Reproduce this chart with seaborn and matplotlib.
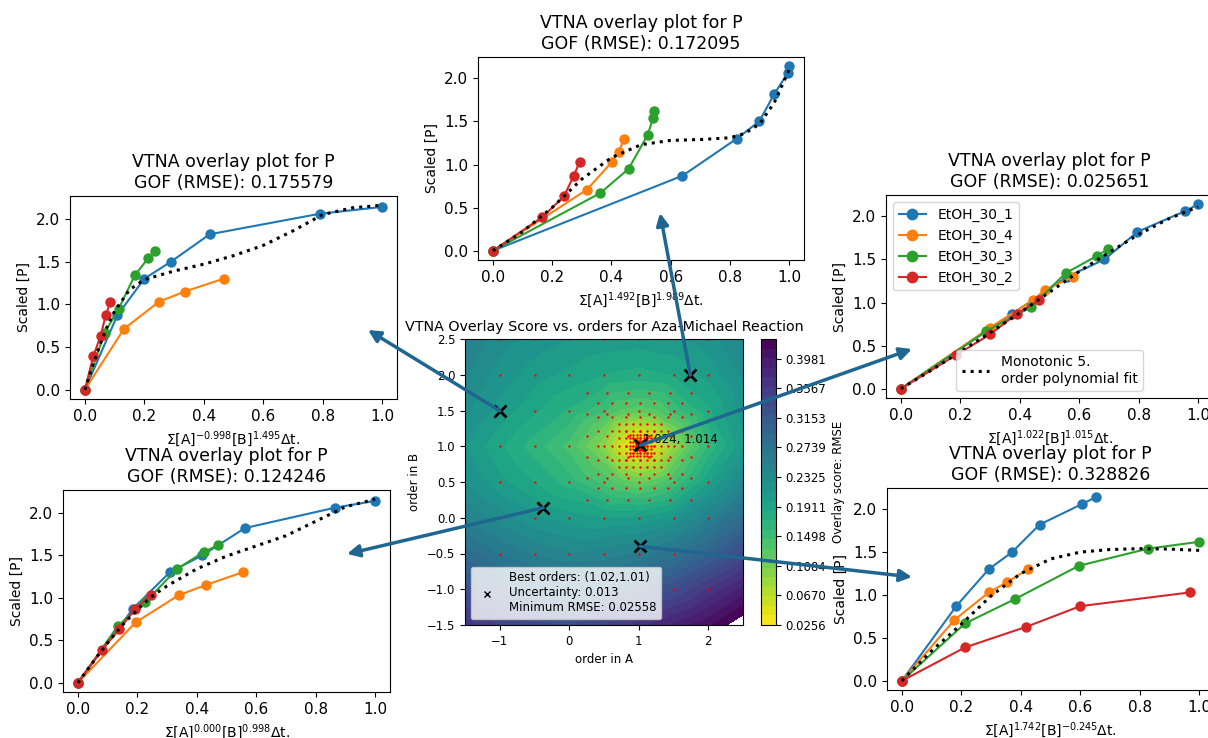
import numpy as np
import pandas as pd
import matplotlib
matplotlib.use("Agg")
import matplotlib.pyplot as plt
import matplotlib.tri as mtri
from matplotlib.patches import ConnectionPatch
from matplotlib.lines import Line2D
import seaborn as sns

# ------------------------------------------------------------------ data
series_names = ["EtOH_30_1", "EtOH_30_4", "EtOH_30_3", "EtOH_30_2"]
series_colors = ["#1f77b4", "#ff7f0e", "#2ca02c", "#d62728"]

# scaled [P] values (same in all panels)
p_etoh_1 = [0.0, 0.87, 1.30, 1.50, 1.82, 2.06, 2.14]
p_etoh_4 = [0.0, 0.71, 1.03, 1.15, 1.30]
p_etoh_3 = [0.0, 0.67, 0.95, 1.34, 1.54, 1.62]
p_etoh_2 = [0.0, 0.39, 0.63, 0.87, 1.03]

# top-left panel
tl_orders = (-0.998, 1.495)
tl_gof = "0.175579"
tl_x1 = [0.0, 0.109, 0.200, 0.290, 0.420, 0.790, 1.0]
tl_x4 = [0.0, 0.131, 0.249, 0.336, 0.467]
tl_x3 = [0.0, 0.067, 0.114, 0.168, 0.213, 0.235]
tl_x2 = [0.0, 0.028, 0.053, 0.070, 0.086]
tl_fit_x = [0.0, 0.025, 0.05, 0.075, 0.1, 0.15, 0.2, 0.25, 0.3, 0.4, 0.5, 0.6, 0.7, 0.8, 0.9, 1.0]
tl_fit_y = [0.0, 0.27, 0.52, 0.74, 0.92, 1.17, 1.29, 1.34, 1.39, 1.47, 1.57, 1.69, 1.86, 2.05, 2.13, 2.16]

# top-centre panel
tc_orders = (1.492, 1.989)
tc_gof = "0.172095"
tc_x1 = [0.0, 0.640, 0.823, 0.899, 0.950, 0.995, 1.0]
tc_x4 = [0.0, 0.318, 0.402, 0.425, 0.444]
tc_x3 = [0.0, 0.363, 0.458, 0.522, 0.541, 0.545]
tc_x2 = [0.0, 0.167, 0.240, 0.273, 0.293]
tc_fit_x = [0.0, 0.1, 0.2, 0.3, 0.4, 0.5, 0.6, 0.7, 0.8, 0.85, 0.9, 0.95, 1.0]
tc_fit_y = [0.0, 0.22, 0.50, 0.83, 1.08, 1.23, 1.28, 1.29, 1.31, 1.36, 1.47, 1.72, 2.10]

# right panel (best orders)
r_orders = (1.022, 1.015)
r_gof = "0.025651"
r_x1 = [0.0, 0.375, 0.560, 0.685, 0.796, 0.956, 1.0]
r_x4 = [0.0, 0.300, 0.446, 0.485, 0.580]
r_x3 = [0.0, 0.288, 0.439, 0.554, 0.659, 0.698]
r_x2 = [0.0, 0.185, 0.300, 0.390, 0.465]
r_fit_x = [0.0, 0.1, 0.2, 0.3, 0.4, 0.5, 0.6, 0.7, 0.8, 0.9, 1.0]
r_fit_y = [0.0, 0.21, 0.43, 0.65, 0.88, 1.12, 1.36, 1.58, 1.79, 1.97, 2.11]

# bottom-left panel
bl_orders = (0.000, 0.998)
bl_gof = "0.124246"
bl_x1 = [0.0, 0.185, 0.309, 0.419, 0.562, 0.865, 1.0]
bl_x4 = [0.0, 0.194, 0.339, 0.430, 0.554]
bl_x3 = [0.0, 0.135, 0.227, 0.334, 0.424, 0.472]
bl_x2 = [0.0, 0.081, 0.140, 0.192, 0.245]
bl_fit_x = [0.0, 0.05, 0.1, 0.15, 0.2, 0.25, 0.3, 0.4, 0.5, 0.6, 0.7, 0.8, 0.9, 1.0]
bl_fit_y = [0.0, 0.24, 0.47, 0.68, 0.86, 1.02, 1.14, 1.34, 1.49, 1.61, 1.73, 1.90, 2.07, 2.16]

# bottom-right panel
br_orders = (1.742, -0.245)
br_gof = "0.328826"
br_x1 = [0.0, 0.183, 0.292, 0.371, 0.463, 0.606, 0.652]
br_x4 = [0.0, 0.177, 0.292, 0.354, 0.424]
br_x3 = [0.0, 0.213, 0.379, 0.595, 0.828, 1.0]
br_x2 = [0.0, 0.213, 0.419, 0.600, 0.969]
br_fit_x = [0.0, 0.1, 0.2, 0.3, 0.4, 0.5, 0.6, 0.7, 0.8, 0.9, 1.0]
br_fit_y = [0.0, 0.35, 0.66, 0.99, 1.25, 1.42, 1.50, 1.53, 1.54, 1.535, 1.52]

# overlay score surface: coarse grid (rows from order B = 2.5 down to -1.5)
grid_a = [-1.5, -1.0, -0.5, 0.0, 0.5, 1.0, 1.5, 2.0, 2.5]
grid_b = [2.5, 2.0, 1.5, 1.0, 0.5, 0.0, -0.5, -1.0, -1.5]
grid_rmse = [
    [0.250, 0.232, 0.220, 0.212, 0.207, 0.205, 0.210, 0.220, 0.238],
    [0.240, 0.220, 0.205, 0.195, 0.185, 0.180, 0.186, 0.203, 0.228],
    [0.228, 0.207, 0.188, 0.170, 0.148, 0.125, 0.150, 0.182, 0.218],
    [0.212, 0.188, 0.165, 0.140, 0.095, 0.0256, 0.090, 0.160, 0.208],
    [0.225, 0.203, 0.185, 0.165, 0.140, 0.115, 0.145, 0.195, 0.240],
    [0.250, 0.232, 0.215, 0.205, 0.198, 0.200, 0.215, 0.250, 0.285],
    [0.285, 0.265, 0.250, 0.240, 0.243, 0.255, 0.272, 0.300, 0.335],
    [0.325, 0.305, 0.292, 0.285, 0.290, 0.308, 0.330, 0.360, 0.389],
    [0.365, 0.345, 0.335, 0.332, 0.345, 0.365, 0.388, 0.409, 0.440],
]
# refined points around the minimum
fine_a = [0.75, 1.25, 1.0, 1.0, 0.75, 1.25, 0.75, 1.25, 0.5, 0.5, 1.5, 1.5, 0.75, 1.25, 0.75, 1.25]
fine_b = [1.0, 1.0, 1.25, 0.75, 1.25, 1.25, 0.75, 0.75, 1.25, 0.75, 1.25, 0.75, 1.5, 1.5, 0.5, 0.5]
fine_rmse = [0.050, 0.048, 0.062, 0.068, 0.075, 0.072, 0.080, 0.078,
             0.115, 0.120, 0.112, 0.118, 0.130, 0.130, 0.125, 0.125]

# sampled order combinations (red dots), several refinement levels
samp1_a = [-1.0, -0.5, 0.0, 0.5, 1.0, 1.5, 2.0]
samp1_b = [-1.0, -0.5, 0.0, 0.5, 1.0, 1.5, 2.0, 2.5]
samp2_a = [0.25, 0.55, 0.85, 1.15, 1.45, 1.75]
samp2_b = [0.25, 0.55, 0.85, 1.15, 1.45, 1.75]
samp3_a = [0.42, 0.62, 0.82, 1.02, 1.22, 1.42, 1.62]
samp3_b = [0.41, 0.61, 0.81, 1.01, 1.21, 1.41, 1.61]
samp4_a = [0.72, 0.82, 0.92, 1.02, 1.12, 1.22, 1.32]
samp4_b = [0.71, 0.81, 0.91, 1.01, 1.11, 1.21, 1.31]
samp5_a = [0.87, 0.92, 0.97, 1.02, 1.07, 1.12, 1.17]
samp5_b = [0.86, 0.91, 0.96, 1.01, 1.06, 1.11, 1.16]
samp6_a = [0.96, 0.98, 1.00, 1.02, 1.04, 1.06, 1.08]
samp6_b = [0.95, 0.97, 0.99, 1.01, 1.03, 1.05, 1.07]

best_orders = (1.024, 1.014)
shown_orders = [(-0.998, 1.495), (1.742, 1.995), (1.024, 1.014), (-0.375, 0.14), (1.02, -0.40)]
cbar_ticks = [0.0256, 0.0670, 0.1084, 0.1498, 0.1911, 0.2325, 0.2739, 0.3153, 0.3567, 0.3981]

# ------------------------------------------------------------------ figure
W, H = 1208, 738
fig = plt.figure(figsize=(W / 100, H / 100), dpi=100)
fig.patch.set_facecolor("white")

def box(l, t, r, b):
    return [l / W, 1 - b / H, (r - l) / W, (b - t) / H]

TICK_FS = 11
TITLE_FS = 12.5
LABEL_FS = 10
MS = 7.5

def draw_panel(rect, xs_list, fit_x, fit_y, orders, gof, legend=False):
    ax = fig.add_axes(rect)
    ys_list = [p_etoh_1, p_etoh_4, p_etoh_3, p_etoh_2]
    for xs, ys, c in zip(xs_list, ys_list, series_colors):
        sns.lineplot(x=xs, y=ys, ax=ax, color=c, marker="o", markersize=MS,
                     markeredgecolor=c, markeredgewidth=0, linewidth=1.5,
                     sort=False, estimator=None, errorbar=None)
    sns.lineplot(x=fit_x, y=fit_y, ax=ax, color="black", linestyle=":",
                 linewidth=2.2, sort=False, estimator=None, errorbar=None)
    ax.set_title(f"VTNA overlay plot for P\nGOF (RMSE): {gof}", fontsize=TITLE_FS)
    a, b = orders
    ax.set_xlabel(f"Σ[A]$^{{{a:.3f}}}$[B]$^{{{b:.3f}}}$Δt.", fontsize=LABEL_FS)
    ax.set_ylabel("Scaled [P]", fontsize=LABEL_FS)
    ax.set_xticks([0.0, 0.2, 0.4, 0.6, 0.8, 1.0])
    ax.set_yticks([0.0, 0.5, 1.0, 1.5, 2.0])
    ax.tick_params(labelsize=TICK_FS)
    if legend:
        handles = [Line2D([], [], color=c, marker="o", markersize=MS, lw=1.5)
                   for c in series_colors]
        leg1 = ax.legend(handles, series_names, loc="upper left", fontsize=10)
        ax.add_artist(leg1)
        fit_h = Line2D([], [], color="black", linestyle=":", lw=2.2)
        ax.legend([fit_h], ["Monotonic 5.\norder polynomial fit"],
                  loc="lower center", fontsize=10)
    return ax

draw_panel(box(70, 196, 397, 399), [tl_x1, tl_x4, tl_x3, tl_x2], tl_fit_x, tl_fit_y, tl_orders, tl_gof)
draw_panel(box(478, 57, 804, 260), [tc_x1, tc_x4, tc_x3, tc_x2], tc_fit_x, tc_fit_y, tc_orders, tc_gof)
draw_panel(box(886, 195, 1213, 398), [r_x1, r_x4, r_x3, r_x2], r_fit_x, r_fit_y, r_orders, r_gof, legend=True)
draw_panel(box(63, 490, 390, 692), [bl_x1, bl_x4, bl_x3, bl_x2], bl_fit_x, bl_fit_y, bl_orders, bl_gof)
draw_panel(box(887, 488, 1214, 690), [br_x1, br_x4, br_x3, br_x2], br_fit_x, br_fit_y, br_orders, br_gof)

# ---------------------------------------------------------- centre contour
axc = fig.add_axes(box(465, 339, 743, 625))
cax = fig.add_axes(box(761, 339, 776, 625))

pa, pb, pv = [], [], []
for bi, row in zip(grid_b, grid_rmse):
    for ai, v in zip(grid_a, row):
        pa.append(ai); pb.append(bi); pv.append(v)
pa += fine_a; pb += fine_b; pv += fine_rmse
tri = mtri.Triangulation(pa, pb)
levels = np.linspace(0.0256, 0.4256, 31)
cs = axc.tricontourf(tri, pv, levels=levels, cmap="viridis_r")

sa, sb = [], []
for la, lb in [(samp1_a, samp1_b), (samp2_a, samp2_b), (samp3_a, samp3_b),
               (samp4_a, samp4_b), (samp5_a, samp5_b), (samp6_a, samp6_b)]:
    for bb in lb:
        for aa in la:
            sa.append(aa); sb.append(bb)
samples = pd.DataFrame({"order in A": sa, "order in B": sb})
sns.scatterplot(data=samples, x="order in A", y="order in B", ax=axc,
                color="red", s=3, linewidth=0, legend=False)

mk_a = [o[0] for o in shown_orders]
mk_b = [o[1] for o in shown_orders]
axc.plot(mk_a, mk_b, linestyle="none", marker="x", color="black",
         markersize=8, markeredgewidth=2)
axc.text(best_orders[0] + 0.04, best_orders[1] + 0.03, "1.024, 1.014", fontsize=8.5)

leg_h = Line2D([], [], linestyle="none", marker="x", color="black", markersize=5)
axc.legend([leg_h], ["Best orders: (1.02,1.01)\nUncertainty: 0.013\nMinimum RMSE: 0.02558"],
           loc="lower left", fontsize=8.5)
axc.set_xlim(-1.5, 2.5)
axc.set_ylim(-1.5, 2.5)
axc.set_xticks([-1, 0, 1, 2])
axc.set_yticks([-1.5, -1.0, -0.5, 0.0, 0.5, 1.0, 1.5, 2.0, 2.5])
axc.tick_params(labelsize=8.4)
axc.set_xlabel("order in A", fontsize=8.5)
axc.set_ylabel("order in B", fontsize=8.5)
axc.set_title("VTNA Overlay Score vs. orders for Aza-Michael Reaction", fontsize=10.3)

cb = fig.colorbar(cs, cax=cax, ticks=cbar_ticks)
cb.ax.set_yticklabels([f"{t:.4f}" for t in cbar_ticks])
cb.ax.tick_params(labelsize=8.4)
cb.set_label("Overlay score: RMSE", fontsize=8.5)

# ---------------------------------------------------------------- arrows
arrow_color = "#1f6690"
arrow_ends = [(368, 330), (660, 213), (912, 349), (347, 554), (912, 577)]
for (oa, ob), (px, py) in zip(shown_orders, arrow_ends):
    cp = ConnectionPatch(xyA=(oa, ob), coordsA=axc.transData,
                         xyB=(px / W, 1 - py / H), coordsB="figure fraction",
                         arrowstyle="-|>", color=arrow_color, lw=2.5,
                         mutation_scale=18, shrinkA=0, shrinkB=0)
    fig.add_artist(cp)

fig.savefig("out.png", dpi=100)
